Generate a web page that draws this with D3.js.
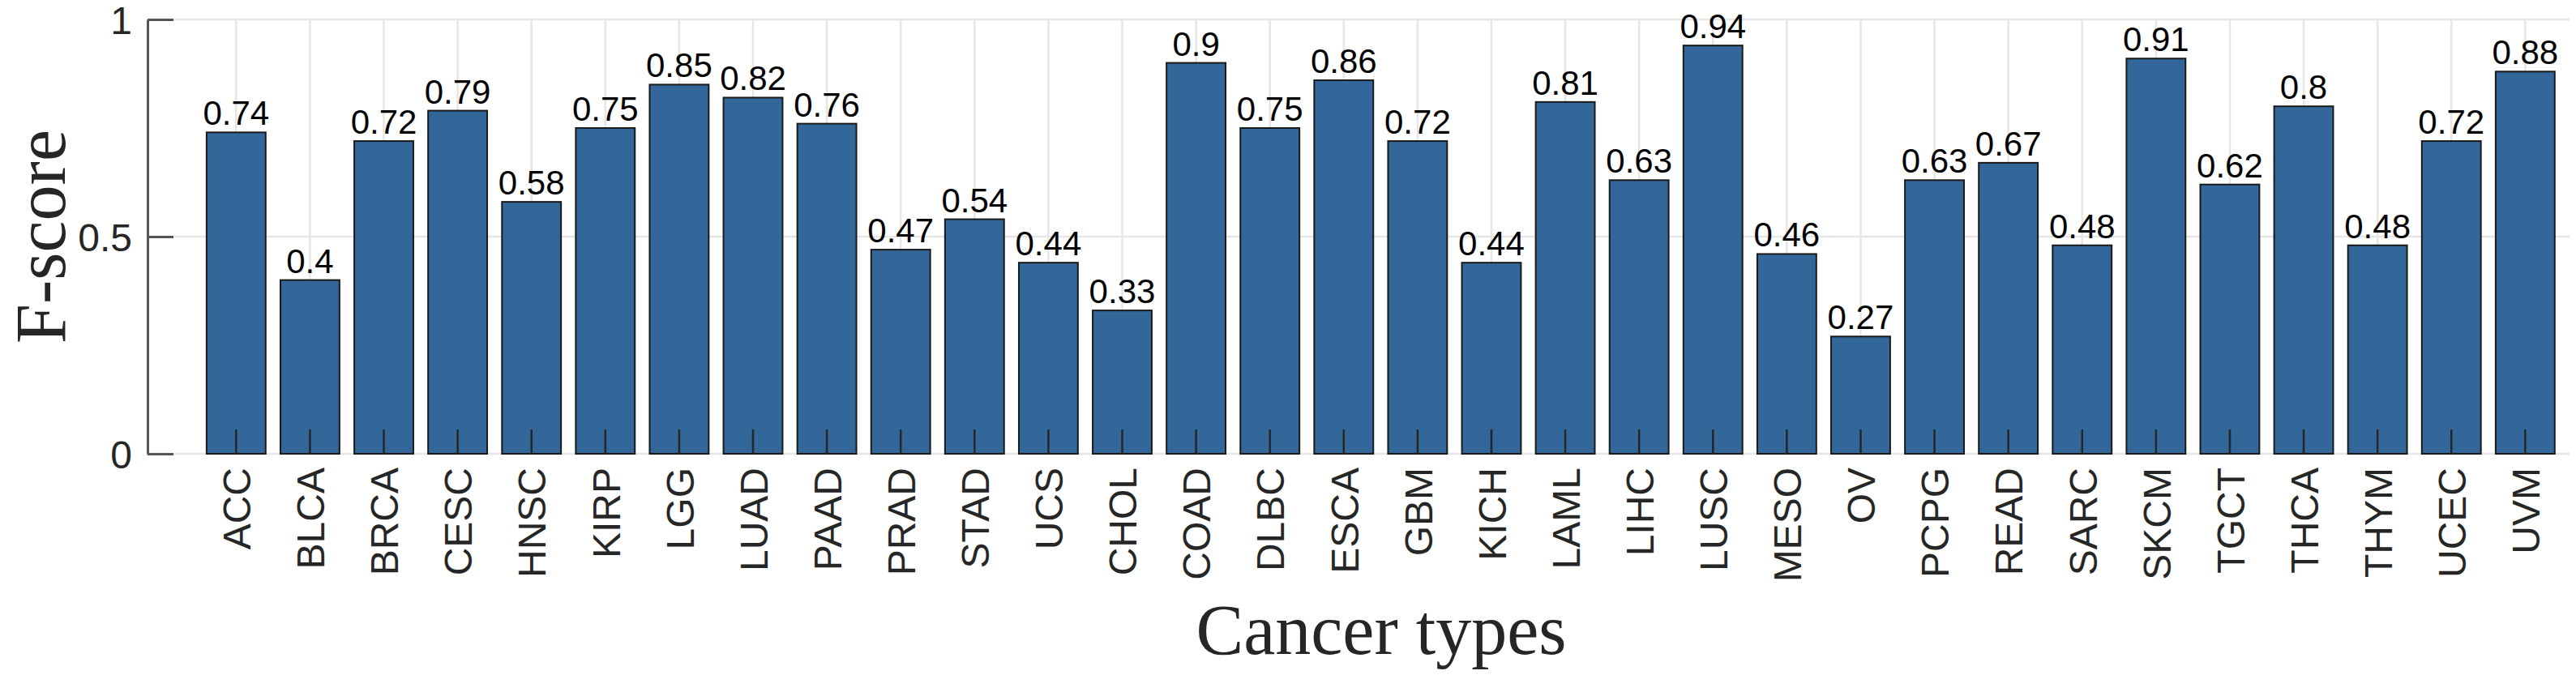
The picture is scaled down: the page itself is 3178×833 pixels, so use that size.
<!DOCTYPE html>
<html>
<head>
<meta charset="utf-8">
<script src="https://cdn.jsdelivr.net/npm/d3@7"></script>
<style>
  html, body { margin: 0; padding: 0; background: #fff; }
  svg { display: block; }
</style>
</head>
<body>
<div id="chart"></div>
<script>
const categories = ["ACC","BLCA","BRCA","CESC","HNSC","KIRP","LGG","LUAD","PAAD","PRAD","STAD","UCS","CHOL","COAD","DLBC","ESCA","GBM","KICH","LAML","LIHC","LUSC","MESO","OV","PCPG","READ","SARC","SKCM","TGCT","THCA","THYM","UCEC","UVM"];
const fscores = [0.74,0.4,0.72,0.79,0.58,0.75,0.85,0.82,0.76,0.47,0.54,0.44,0.33,0.9,0.75,0.86,0.72,0.44,0.81,0.63,0.94,0.46,0.27,0.63,0.67,0.48,0.91,0.62,0.8,0.48,0.72,0.88];
const valueLabels = ["0.74","0.4","0.72","0.79","0.58","0.75","0.85","0.82","0.76","0.47","0.54","0.44","0.33","0.9","0.75","0.86","0.72","0.44","0.81","0.63","0.94","0.46","0.27","0.63","0.67","0.48","0.91","0.62","0.8","0.48","0.72","0.88"];
const yTicks = [0, 0.5, 1];
const yTickLabels = ["0", "0.5", "1"];
const xTitle = "Cancer types";
const yTitle = "F-score";

(function () {
const W = 3178, H = 833;
const mLeft = 182, mRight = 3170, mTop = 24, mBottom = 560;

const svg = d3.select("#chart").append("svg").attr("width", W).attr("height", H)
  .style("background", "#fff");

const idx = categories.map((c, i) => i + 1);
const x = d3.scaleLinear().domain([-0.2, 32.6]).range([mLeft, mRight]);
const y = d3.scaleLinear().domain([0, 1]).range([mBottom, mTop]);
const barW = (x(1) - x(0)) * 0.8;

const gridColor = "#e6e6e6";
const grid = svg.append("g");
grid.selectAll("line.vg").data(idx).join("line")
  .attr("x1", d => x(d)).attr("x2", d => x(d))
  .attr("y1", y(1)).attr("y2", y(0))
  .attr("stroke", gridColor).attr("stroke-width", 2.5);
grid.selectAll("line.hg").data(yTicks).join("line")
  .attr("x1", mLeft).attr("x2", mRight)
  .attr("y1", d => y(d)).attr("y2", d => y(d))
  .attr("stroke", gridColor).attr("stroke-width", 2.5);

svg.append("g").selectAll("rect").data(fscores).join("rect")
  .attr("x", (d, i) => x(i + 1) - barW / 2)
  .attr("width", barW)
  .attr("y", d => y(d))
  .attr("height", d => y(0) - y(d))
  .attr("fill", "#336699")
  .attr("stroke", "#1a1a1a")
  .attr("stroke-width", 2);

svg.append("g").selectAll("line").data(idx).join("line")
  .attr("x1", d => x(d)).attr("x2", d => x(d))
  .attr("y1", y(0)).attr("y2", y(0) - 30)
  .attr("stroke", "#262626").attr("stroke-width", 2.5);

const yAxis = d3.axisLeft(y).tickValues(yTicks)
  .tickFormat((d, i) => yTickLabels[i]).tickSizeInner(-32).tickSizeOuter(0).tickPadding(50);
const gy = svg.append("g").attr("transform", `translate(${mLeft},0)`).call(yAxis);
gy.select(".domain").attr("stroke", "#555").attr("stroke-width", 3);
gy.selectAll(".tick line").attr("stroke", "#555").attr("stroke-width", 3);
gy.selectAll(".tick text").attr("font-family", "Liberation Sans, Arial, sans-serif")
  .attr("font-size", 48).attr("fill", "#262626").attr("x", -19).attr("dy", "0.36em");

const xAxis = d3.axisBottom(x).tickValues(idx).tickFormat((d) => categories[d - 1]).tickSize(0);
const gx = svg.append("g").attr("transform", `translate(0,${mBottom})`).call(xAxis);
gx.select(".domain").remove();
gx.selectAll(".tick text")
  .attr("font-family", "Liberation Sans, Arial, sans-serif")
  .attr("font-size", 48).attr("fill", "#262626")
  .attr("transform", "rotate(-90)")
  .attr("text-anchor", "end")
  .attr("x", -17).attr("y", 0).attr("dy", "0.36em");

svg.append("g").selectAll("text").data(fscores).join("text")
  .attr("x", (d, i) => x(i + 1))
  .attr("y", d => y(d) - 9)
  .attr("text-anchor", "middle")
  .attr("font-family", "Liberation Sans, Arial, sans-serif")
  .attr("font-size", 42).attr("fill", "#000")
  .text((d, i) => valueLabels[i]);

svg.append("text")
  .attr("x", 1704).attr("y", 807)
  .attr("text-anchor", "middle")
  .attr("font-family", "Liberation Serif, Times New Roman, serif")
  .attr("font-size", 88).attr("fill", "#262626")
  .text(xTitle);

svg.append("text")
  .attr("transform", `translate(80,${(mTop + mBottom) / 2}) rotate(-90)`)
  .attr("text-anchor", "middle")
  .attr("font-family", "Liberation Serif, Times New Roman, serif")
  .attr("font-size", 88).attr("fill", "#262626")
  .text(yTitle);
})();
</script>
</body>
</html>
